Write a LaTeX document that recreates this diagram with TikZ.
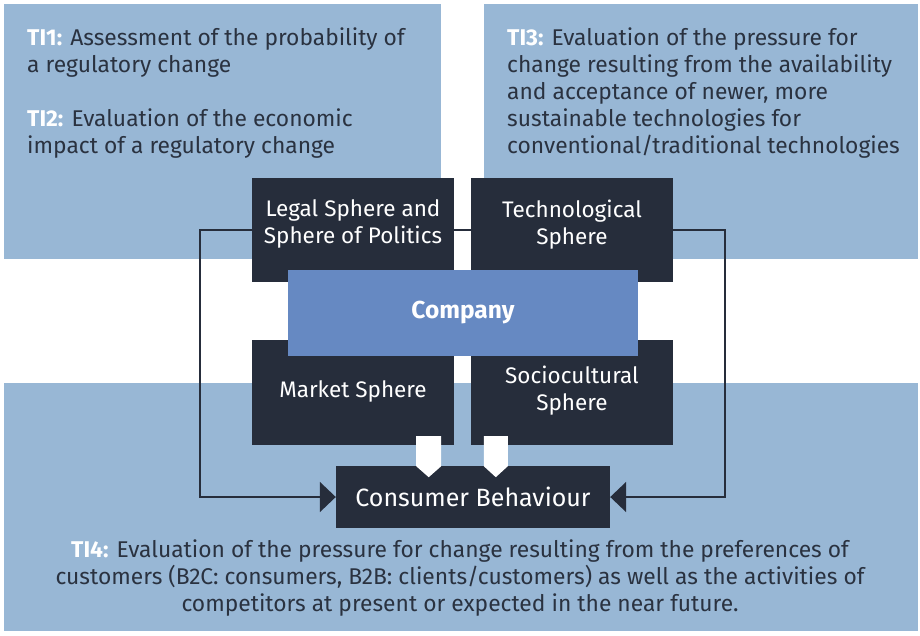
\documentclass[tikz,border=0pt]{standalone}
\usepackage{fontspec}
\setmainfont{Fira Sans}
\usetikzlibrary{arrows.meta,calc}
\definecolor{band}{HTML}{98B7D5}
\definecolor{darkbox}{HTML}{262D3B}
\definecolor{comp}{HTML}{6689C2}
\definecolor{bandtext}{HTML}{2A3240}
\begin{document}
\begin{tikzpicture}[x=1pt,y=-1pt,
  bandrect/.style={fill=band,draw=none},
  bandtxt/.style={inner sep=0pt,text=bandtext,font=\fontsize{22.8}{27}\selectfont},
  sphere/.style={fill=darkbox,draw=none,minimum width=202pt,minimum height=104pt,inner sep=0pt},
  spheretxt/.style={text=white,align=center,font=\fontsize{22.5}{27}\selectfont},
  fb/.style={draw=darkbox,line width=2pt,-{Triangle[length=16pt,width=30pt]}},
  fbline/.style={draw=darkbox,line width=2pt},
  whitearrow/.style={fill=white,draw=none}
]
\useasboundingbox (0,0) rectangle (920,635);
% background bands
\path[bandrect] (4,4) rectangle (441,259);
\path[bandrect] (484,4) rectangle (918,259);
\path[bandrect] (4,383) rectangle (918,631);
% band texts
\node[bandtxt,anchor=north west,align=left] (ti12) at (27,28)
  {{\color{white}\bfseries TI1:} Assessment of the probability of\\
   a regulatory change\\[27pt]
   {\color{white}\bfseries TI2:} Evaluation of the economic\\
   impact of a regulatory change};
\node[bandtxt,anchor=north west,align=left] (ti3) at (507,28)
  {{\color{white}\bfseries TI3:} Evaluation of the pressure for\\
   change resulting from the availability\\
   and acceptance of newer, more\\
   sustainable technologies for\\
   conventional/traditional technologies};
\node[bandtxt,anchor=north,align=center] (ti4) at (460,540)
  {{\color{white}\bfseries TI4:} Evaluation of the pressure for change resulting from the preferences of\\
   customers (B2C: consumers, B2B: clients/customers) as well as the activities of\\
   competitors at present or expected in the near future.};
% spheres
\node[sphere] (legal) at (353,230) {};
\node[sphere] (tech) at (572,230) {};
\node[sphere,minimum height=105pt] (market) at (353,392.5) {};
\node[sphere,minimum height=105pt] (socio) at (572,392.5) {};
\node[spheretxt,yshift=6.5pt] at (legal) {Legal Sphere and\\Sphere of Politics};
\node[spheretxt,yshift=5.5pt] at (tech) {Technological\\Sphere};
\node[spheretxt,yshift=1.5pt] at (market) {Market Sphere};
\node[spheretxt,yshift=2pt] at (socio) {Sociocultural\\Sphere};
% company
\node[fill=comp,minimum width=350pt,minimum height=86pt,text=white,
  font=\fontsize{24.5}{27}\selectfont\bfseries] (company) at (463,313) {Company};
% consumer
\node[fill=darkbox,minimum width=274pt,minimum height=62pt,text=white,
  font=\fontsize{25}{28}\selectfont] (consumer) at (473,497) {Consumer Behaviour};
% feedback connectors
\draw[fbline] (legal.east) -- (tech.west);
\draw[fb] (legal.west) -- ++(-52,0) |- (consumer.west);
\draw[fb] (tech.east) -- ++(52,0) |- (consumer.east);
% white arrows
\path[whitearrow] ($(market.south east)+(-38,-9)$) -- ++(25,0) -- ++(0,30) -- ++(-12.5,11) -- ++(-12.5,-11) -- cycle;
\path[whitearrow] ($(socio.south west)+(13,-9)$) -- ++(24,0) -- ++(0,30) -- ++(-12,11) -- ++(-12,-11) -- cycle;
\end{tikzpicture}
\end{document}
